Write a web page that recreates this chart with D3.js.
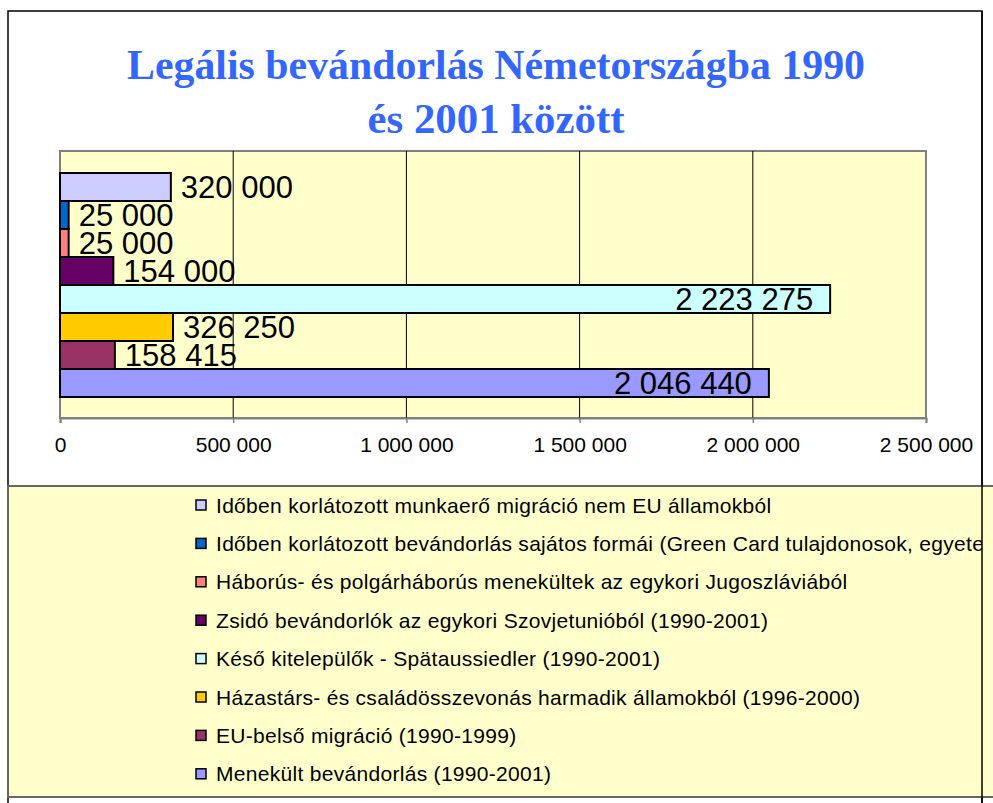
<!DOCTYPE html>
<html>
<head>
<meta charset="utf-8">
<script src="https://cdn.jsdelivr.net/npm/d3@7"></script>
<style>
  body { margin: 0; background: #fff; }
  svg { display: block; }
</style>
</head>
<body>
<div id="chart"></div>
<script>
const seriesNames = [
    "Időben korlátozott munkaerő migráció nem EU államokból",
    "Időben korlátozott bevándorlás sajátos formái (Green Card tulajdonosok, egyetemi hallgatók)",
    "Háborús- és polgárháborús menekültek az egykori Jugoszláviából",
    "Zsidó bevándorlók az egykori Szovjetunióból (1990-2001)",
    "Késő kitelepülők - Spätaussiedler (1990-2001)",
    "Házastárs- és családösszevonás harmadik államokból (1996-2000)",
    "EU-belső migráció (1990-1999)",
    "Menekült bevándorlás (1990-2001)"
];
const seriesValues = [320000, 25000, 25000, 154000, 2223275, 326250, 158415, 2046440];
const seriesColors = ["#CCCCFF", "#0066CC", "#FF8080", "#660066", "#CCFFFF", "#FFCC00", "#993366", "#9999FF"];
const xTicks = [0, 500000, 1000000, 1500000, 2000000, 2500000];
const titleLines = ["Legális bevándorlás Németországba 1990", "és 2001 között"];

const width = 993, height = 803;
const plot = { left: 60, right: 926, top: 151, bottom: 418 };
const fmt = v => d3.format(",")(v).replace(/,/g, " ");

const svg = d3.select("#chart").append("svg").attr("width", width).attr("height", height);

// outer chart frame
svg.append("rect").attr("x", 8).attr("y", 11).attr("width", 974).attr("height", 800)
    .attr("fill", "#fff").attr("stroke", "#000").attr("stroke-width", 1.5);

// title
svg.append("g").selectAll("text").data(titleLines).join("text")
    .attr("x", 496).attr("y", (d, i) => 79 + i * 54)
    .attr("text-anchor", "middle")
    .attr("font-family", "'Liberation Serif', 'Times New Roman', serif")
    .attr("font-weight", "bold").attr("font-size", 43)
    .attr("fill", "#3366FF")
    .attr("textLength", (d, i) => i === 0 ? 738 : 257)
    .attr("lengthAdjust", "spacingAndGlyphs")
    .text(d => d);

const x = d3.scaleLinear().domain([0, 2500000]).range([plot.left, plot.right]);
const y = d3.scaleBand().domain(d3.range(seriesValues.length)).range([173, 397]).padding(0);

// plot area
svg.append("rect").attr("x", plot.left).attr("y", plot.top)
    .attr("width", plot.right - plot.left).attr("height", plot.bottom - plot.top)
    .attr("fill", "#FFFFCC").attr("stroke", "#808080").attr("stroke-width", 2);

// gridlines
svg.append("g").selectAll("line").data(xTicks.slice(1, -1)).join("line")
    .attr("x1", d => x(d)).attr("x2", d => x(d))
    .attr("y1", plot.top).attr("y2", plot.bottom)
    .attr("stroke", "#000").attr("stroke-width", 1);

// x axis
const xAxis = svg.append("g").attr("transform", `translate(0,${plot.bottom})`)
    .call(d3.axisBottom(x).tickValues(xTicks).tickFormat(fmt).tickSize(5).tickPadding(14));
xAxis.select(".domain").attr("stroke", "#808080").attr("stroke-width", 2);
xAxis.selectAll(".tick line").attr("stroke", "#808080").attr("stroke-width", 1.5);
xAxis.selectAll("text").attr("font-family", "'Liberation Sans', Arial, sans-serif")
    .attr("font-size", 21).attr("fill", "#000");

// left axis line
svg.append("line").attr("x1", plot.left).attr("x2", plot.left)
    .attr("y1", plot.top).attr("y2", plot.bottom)
    .attr("stroke", "#808080").attr("stroke-width", 2);

// bars
svg.append("g").selectAll("rect").data(seriesValues).join("rect")
    .attr("x", x(0)).attr("y", (d, i) => y(i))
    .attr("width", d => x(d) - x(0)).attr("height", y.bandwidth())
    .attr("fill", (d, i) => seriesColors[i])
    .attr("stroke", "#000").attr("stroke-width", 2);

// value labels (big bars get the label inside the bar end)
svg.append("g").selectAll("text").data(seriesValues).join("text")
    .attr("x", d => d > 1000000 ? x(d) - 17 : x(d) + 10)
    .attr("y", (d, i) => y(i) + y.bandwidth() / 2)
    .attr("dy", "0.36em")
    .attr("text-anchor", d => d > 1000000 ? "end" : "start")
    .attr("font-family", "'Liberation Sans', Arial, sans-serif")
    .attr("font-size", 31).attr("fill", "#000")
    .text(fmt);

// legend
svg.append("clipPath").attr("id", "legend-clip")
    .append("rect").attr("x", 8).attr("y", 486).attr("width", 974).attr("height", 311);
const legend = svg.append("g");
legend.append("rect").attr("x", 8).attr("y", 486).attr("width", 990).attr("height", 311)
    .attr("fill", "#FFFFCC").attr("stroke", "#666").attr("stroke-width", 2);
const items = legend.append("g").attr("clip-path", "url(#legend-clip)")
    .selectAll("g").data(seriesNames).join("g")
    .attr("transform", (d, i) => `translate(196,${505 + i * 38.4})`);
items.append("rect").attr("x", 0).attr("y", -5).attr("width", 10).attr("height", 10)
    .attr("fill", (d, i) => seriesColors[i]).attr("stroke", "#000").attr("stroke-width", 1.5);
items.append("text").attr("x", 20).attr("dy", "0.36em")
    .attr("font-family", "'Liberation Sans', Arial, sans-serif")
    .attr("font-size", 21).attr("letter-spacing", 0.3).attr("fill", "#000")
    .text(d => d);

// right frame edge drawn over legend
svg.append("line").attr("x1", 982).attr("x2", 982).attr("y1", 11).attr("y2", 803)
    .attr("stroke", "#000").attr("stroke-width", 1.5);
</script>
</body>
</html>
